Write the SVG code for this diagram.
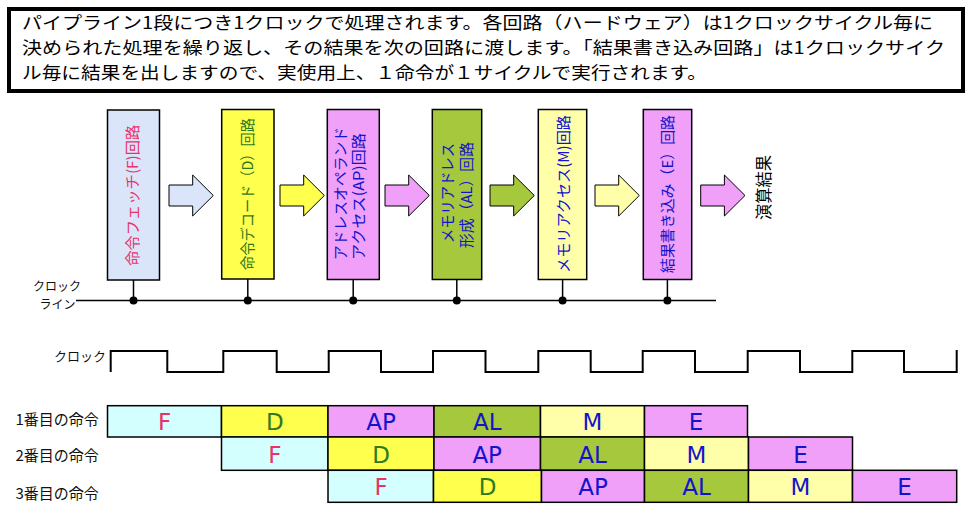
<svg xmlns="http://www.w3.org/2000/svg" width="973" height="519" viewBox="0 0 973 519">
<style>
.jp{font-family:"Noto Sans CJK JP","Noto Sans",sans-serif;}
.top{font-size:17.2px;fill:#000;}
.vt{font-size:15px;text-anchor:middle;}
.box{stroke:#000;stroke-width:1.5;}
.arr{stroke:#000;stroke-width:1;}
.cell{stroke:#000;stroke-width:1.5;}
.ct{font-family:"DejaVu Sans",Verdana,sans-serif;font-size:23px;text-anchor:middle;}
.lbl{font-size:13px;fill:#111;}
.row{font-size:15px;fill:#111;}
.pinkt{fill:#E8336A;}
.greent{fill:#2E7A1E;}
.bluet{fill:#1414CC;}
.cF{fill:#D4FFFF;}
.bF{fill:#DAE5FA;}
.cD{fill:#FFFF4D;}
.cAP{fill:#F0A0F8;}
.cAL{fill:#A5C83C;}
.cM{fill:#FFFFAA;}
</style>
<defs>
<path id="arrow" d="M0,-10.5 H23.7 V-20.5 L44.3,0 L23.7,20.5 V10.5 H0 Z"/>
</defs>

<g id="header">
<rect x="9" y="9" width="954" height="82" fill="#fff" stroke="#000" stroke-width="4"/>
<text class="jp top" x="22" y="28.5" textLength="911" lengthAdjust="spacingAndGlyphs">パイプライン1段につき1クロックで処理されます。各回路（ハードウェア）は1クロックサイクル毎に</text>
<text class="jp top" x="22" y="53.5" textLength="923" lengthAdjust="spacingAndGlyphs">決められた処理を繰り返し、その結果を次の回路に渡します。「結果書き込み回路」は1クロックサイク</text>
<text class="jp top" x="22" y="78.5" textLength="685" lengthAdjust="spacingAndGlyphs">ル毎に結果を出しますので、実使用上、１命令が１サイクルで実行されます。</text>
</g>

<g id="stage-F">
<rect class="box bF" x="107.5" y="110" width="52" height="170"/>
<text class="jp vt pinkt" transform="translate(132.8,195.3) rotate(-90)" x="0" y="5.5" textLength="141" lengthAdjust="spacingAndGlyphs">命令フェッチ(F)回路</text>
</g>
<g id="stage-D">
<rect class="box cD" x="221.7" y="109.5" width="52.3" height="169.5"/>
<text class="jp vt greent" transform="translate(247.5,194) rotate(-90)" x="0" y="5.5" textLength="152" lengthAdjust="spacingAndGlyphs">命令デコード（D）回路</text>
</g>
<g id="stage-AP">
<rect class="box cAP" x="327.3" y="109.5" width="52" height="170"/>
<text class="jp vt bluet" style="text-anchor:start" transform="translate(340.5,260) rotate(-90)" x="0" y="5.5" textLength="133" lengthAdjust="spacingAndGlyphs">アドレスオペランド</text>
<text class="jp vt bluet" style="text-anchor:start" transform="translate(358.3,260) rotate(-90)" x="0" y="5.5" textLength="127" lengthAdjust="spacingAndGlyphs">アクセス(AP)回路</text>
</g>
<g id="stage-AL">
<rect class="box cAL" x="432.3" y="109.5" width="49.4" height="170"/>
<text class="jp vt bluet" transform="translate(447.5,193) rotate(-90)" x="0" y="5.5" textLength="100" lengthAdjust="spacingAndGlyphs">メモリアドレス</text>
<text class="jp vt bluet" transform="translate(466.3,195) rotate(-90)" x="0" y="5.5" textLength="106" lengthAdjust="spacingAndGlyphs">形成（AL）回路</text>
</g>
<g id="stage-M">
<rect class="box cM" x="538.3" y="109.5" width="48.4" height="170"/>
<text class="jp vt bluet" transform="translate(563.5,194) rotate(-90)" x="0" y="5.5" textLength="158" lengthAdjust="spacingAndGlyphs">メモリアクセス(M)回路</text>
</g>
<g id="stage-E">
<rect class="box cAP" x="643.3" y="109.5" width="48.4" height="170"/>
<text class="jp vt bluet" transform="translate(667,194) rotate(-90)" x="0" y="5.5" textLength="158" lengthAdjust="spacingAndGlyphs">結果書き込み（E）回路</text>
</g>
<g id="result">
<text class="jp" style="font-size:16.5px;text-anchor:middle;fill:#000" transform="translate(764.3,187.5) rotate(-90)" x="0" y="6" textLength="65" lengthAdjust="spacingAndGlyphs">演算結果</text>
</g>

<g id="connectors">
<use href="#arrow" class="arr bF" x="169" y="195.5"/>
<use href="#arrow" class="arr cD" x="280" y="195.5"/>
<use href="#arrow" class="arr cAP" x="385" y="195.5"/>
<use href="#arrow" class="arr cAL" x="490" y="195.5"/>
<use href="#arrow" class="arr cM" x="595" y="195.5"/>
<use href="#arrow" class="arr cAP" x="700.7" y="195.5"/>
<g id="clock-line" stroke="#000" stroke-width="1.5" fill="#000">
<line x1="76" y1="300.5" x2="716" y2="300.5"/>
<line x1="133.5" y1="280" x2="133.5" y2="300.5"/>
<line x1="247.8" y1="279" x2="247.8" y2="300.5"/>
<line x1="353.2" y1="279.5" x2="353.2" y2="300.5"/>
<line x1="456.8" y1="279.5" x2="456.8" y2="300.5"/>
<line x1="562.6" y1="279.5" x2="562.6" y2="300.5"/>
<line x1="667.4" y1="279.5" x2="667.4" y2="300.5"/>
<g stroke="none">
<circle cx="133.5" cy="300.5" r="4"/>
<circle cx="247.8" cy="300.5" r="4"/>
<circle cx="353.2" cy="300.5" r="4"/>
<circle cx="456.8" cy="300.5" r="4"/>
<circle cx="562.6" cy="300.5" r="4"/>
<circle cx="667.4" cy="300.5" r="4"/>
</g>
</g>
</g>
<text class="jp lbl" x="57" y="291" text-anchor="middle" style="font-size:12px">クロック</text>
<text class="jp lbl" x="57.5" y="308.5" text-anchor="middle" style="font-size:12px">ライン</text>

<g id="clock">
<text class="jp lbl" x="54" y="361">クロック</text>
<path d="M110.7,372 V351 H167.3 V372 H223.3 V351 H276.7 V372 H328.7 V351 H381 V372 H433 V351 H485.5 V372 H538.3 V351 H590.7 V372 H642.7 V351 H695 V372 H747.7 V351 H800 V372 H852.3 V351 H904 V372 H956.7 V350" fill="none" stroke="#000" stroke-width="2"/>
</g>

<g id="table">
<text class="jp row" x="15.5" y="424.5">1番目の命令</text>
<text class="jp row" x="15.5" y="460.5">2番目の命令</text>
<text class="jp row" x="15.5" y="498.5">3番目の命令</text>
<g id="instr1">
<rect class="cell cF" x="107.5" y="405.7" width="114" height="31.3"/>
<rect class="cell cD" x="221.5" y="405.7" width="106.5" height="31.3"/>
<rect class="cell cAP" x="328" y="405.7" width="106" height="31.3"/>
<rect class="cell cAL" x="434" y="405.7" width="106.5" height="31.3"/>
<rect class="cell cM" x="540.5" y="405.7" width="104" height="31.3"/>
<rect class="cell cAP" x="644.5" y="405.7" width="103" height="31.3"/>
<text class="ct pinkt" x="164.5" y="430">F</text>
<text class="ct greent" x="274.8" y="430">D</text>
<text class="ct bluet" x="381" y="430">AP</text>
<text class="ct bluet" x="487.2" y="430">AL</text>
<text class="ct bluet" x="592.5" y="430">M</text>
<text class="ct bluet" x="696" y="430">E</text>
</g>
<g id="instr2">
<rect class="cell cF" x="221.5" y="437" width="106.5" height="33.3"/>
<rect class="cell cD" x="328" y="437" width="106" height="33.3"/>
<rect class="cell cAP" x="434" y="437" width="106.5" height="33.3"/>
<rect class="cell cAL" x="540.5" y="437" width="104" height="33.3"/>
<rect class="cell cM" x="644.5" y="437" width="104" height="33.3"/>
<rect class="cell cAP" x="748.5" y="437" width="104" height="33.3"/>
<text class="ct pinkt" x="274.8" y="462.5">F</text>
<text class="ct greent" x="381" y="462.5">D</text>
<text class="ct bluet" x="487.2" y="462.5">AP</text>
<text class="ct bluet" x="592.5" y="462.5">AL</text>
<text class="ct bluet" x="696.5" y="462.5">M</text>
<text class="ct bluet" x="800.5" y="462.5">E</text>
</g>
<g id="instr3">
<rect class="cell cF" x="328" y="470.3" width="105.5" height="32"/>
<rect class="cell cD" x="433.5" y="470.3" width="108" height="32"/>
<rect class="cell cAP" x="541.5" y="470.3" width="103" height="32"/>
<rect class="cell cAL" x="644.5" y="470.3" width="104" height="32"/>
<rect class="cell cM" x="748.5" y="470.3" width="104" height="32"/>
<rect class="cell cAP" x="852.5" y="470.3" width="104.2" height="32"/>
<text class="ct pinkt" x="381" y="495">F</text>
<text class="ct greent" x="487.5" y="495">D</text>
<text class="ct bluet" x="593" y="495">AP</text>
<text class="ct bluet" x="696.5" y="495">AL</text>
<text class="ct bluet" x="800.5" y="495">M</text>
<text class="ct bluet" x="904.5" y="495">E</text>
</g>
</g>
</svg>
